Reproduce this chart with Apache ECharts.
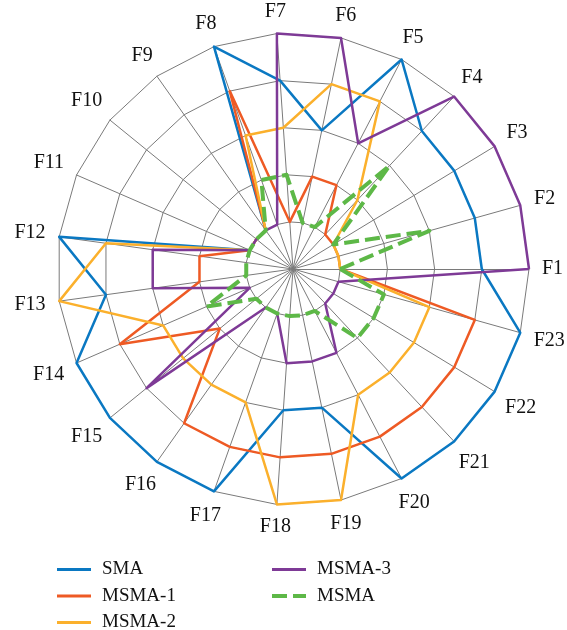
<!DOCTYPE html>
<html>
<head>
<meta charset="utf-8">
<script src="https://cdn.jsdelivr.net/npm/echarts@6/dist/echarts.min.js"></script>
<style>
html,body{margin:0;padding:0;background:#fff;}
#chart{width:567px;height:630px;}
</style>
</head>
<body>
<div id="chart"></div>
<script>
// Data (scale 0-5)
const categories = ['F1','F2','F3','F4','F5','F6','F7','F8','F9','F10','F11','F12','F13','F14','F15','F16','F17','F18','F19','F20','F21','F22','F23'];
const seriesNames = ['SMA','MSMA-1','MSMA-2','MSMA-3','MSMA'];
const sma   = [4,4,4,4,5,3,4,5,1,1,1,5,4,5,5,5,5,3,3,5,5,5,5];
const msma1 = [1,1,1,1,2,2,1,4,1,1,1,2,2,4,2,4,4,4,4,4,4,4,4];
const msma2 = [1,1,1,2,4,4,3,3,1,1,1,4,5,3,3,3,3,5,5,3,3,3,3];
const msma3 = [5,5,5,5,3,5,5,1,1,1,1,3,3,1,4,1,1,2,2,2,1,1,1];
const msma  = [1,3,1,3,1,1,2,2,1,1,1,1,1,2,1,1,1,1,1,1,2,2,2];
const maxValue = 5;

const colors = ['#0A78C2','#EE5A24','#FBB02C','#7E3A96','#5DB847'];
const serif = '"Liberation Serif", "DejaVu Serif", serif';
const solidIcon = 'path://M0,0H34V3H0Z';
const dashIcon = 'path://M0,0H15V4H0Z M21,0H34V4H21Z';
const labelFont = '20px ' + serif;
const labelGap = 13;
const labelHalfHeight = 8;

const values = [sma, msma1, msma2, msma3, msma];

const chart = echarts.init(document.getElementById('chart'), null, {renderer:'canvas'});
const legendBase = {
  orient: 'vertical', top: 555, height: 100, itemGap: 7.5,
  itemWidth: 34, itemHeight: 14,
  textStyle: {fontFamily: serif, fontSize: 19, color: '#111', padding: [0,0,0,6]}
};
chart.setOption({
  animation: false,
  color: colors,
  legend: [
    Object.assign({}, legendBase, {
      left: 52,
      data: [
        {name: 'SMA', icon: solidIcon},
        {name: 'MSMA-1', icon: solidIcon},
        {name: 'MSMA-2', icon: solidIcon}
      ]
    }),
    Object.assign({}, legendBase, {
      left: 267,
      data: [
        {name: 'MSMA-3', icon: solidIcon},
        {name: 'MSMA', icon: dashIcon}
      ]
    })
  ],
  radar: {
    center: [293, 269],
    radius: 236,
    startAngle: 0,
    shape: 'polygon',
    splitNumber: 5,
    axisName: {show: false},
    indicator: categories.map(c => ({name: c, min: 0, max: maxValue})),
    axisLine: {lineStyle: {color: '#7a7a7a', width: 1}},
    splitLine: {lineStyle: {color: '#7a7a7a', width: 1}},
    splitArea: {show: false},
    axisTick: {show: false},
    axisLabel: {show: false}
  },
  series: values.map((v, i) => {
    const ls = i === 4
      ? {color: colors[i], width: 4, type: [15, 6]}
      : {color: colors[i], width: 2.5};
    return {
      type: 'radar',
      name: seriesNames[i],
      symbol: 'none',
      z: 2 + i,
      lineStyle: ls,
      itemStyle: {color: colors[i]},
      data: [{value: v, name: seriesNames[i], lineStyle: ls}]
    };
  })
});

// Indicator names, placed just beyond each axis end (positions from the radar's own coordinate system)
const measureCtx = document.createElement('canvas').getContext('2d');
measureCtx.font = labelFont;
const radarCS = chart.getModel().getComponent('radar', 0).coordinateSystem;
const center = [radarCS.cx, radarCS.cy];
const labels = categories.map((c, i) => {
  const p = radarCS.dataToPoint(maxValue, i);
  const dx = p[0] - center[0], dy = p[1] - center[1];
  const len = Math.sqrt(dx * dx + dy * dy) || 1;
  const ux = dx / len, uy = dy / len;
  const w = measureCtx.measureText(c).width;
  const off = labelGap + (w / 2) * Math.abs(ux) + labelHalfHeight * Math.abs(uy);
  return {
    type: 'text',
    x: p[0] + ux * off,
    y: p[1] + uy * off,
    style: {
      text: c, fill: '#111', font: labelFont,
      align: 'center', verticalAlign: 'middle'
    },
    silent: true
  };
});
chart.setOption({graphic: labels});
</script>
</body>
</html>
